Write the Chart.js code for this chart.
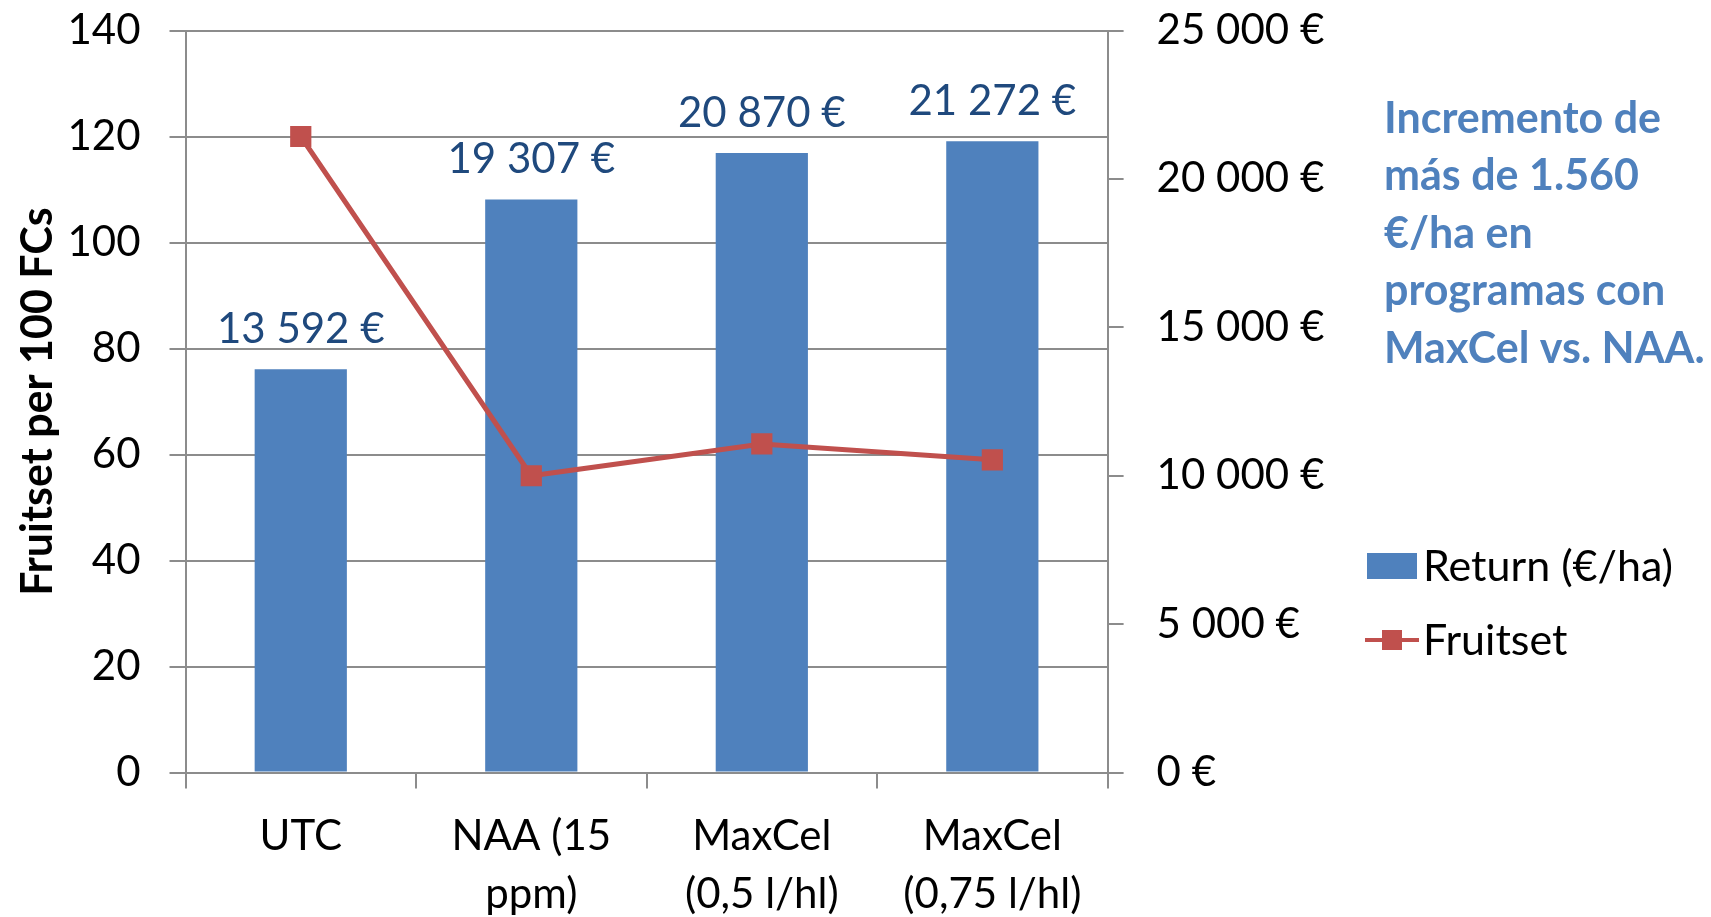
<!DOCTYPE html>
<html>
<head>
<meta charset="utf-8">
<title>Return vs Fruitset</title>
<script src="https://cdn.jsdelivr.net/npm/chart.js@4.4.1/dist/chart.umd.min.js"></script>
<style>
    html, body { margin: 0; padding: 0; background: #fff; }
    #wrap { width: 1711px; height: 917px; }
</style>
</head>
<body>
<div id="wrap"><canvas id="chart" width="1711" height="917"></canvas></div>
<script>
// data
const categories = [['UTC'], ['NAA (15', 'ppm)'], ['MaxCel', '(0,5 l/hl)'], ['MaxCel', '(0,75 l/hl)']];
const returnPerHa = [13592, 19307, 20870, 21272];
const fruitset = [120, 56, 62, 59];
const leftTicks = [0, 20, 40, 60, 80, 100, 120, 140];
const rightTicks = [0, 5000, 10000, 15000, 20000, 25000];
const noteLines = ['Incremento de', 'más de 1.560', '€/ha en', 'programas con', 'MaxCel vs. NAA.'];

const FONT = 'Lato, "Liberation Sans", sans-serif';
const GRID = '#8c8c8c';
const BLUE = '#4F81BD';
const RED = '#C0504D';

Chart.defaults.font.family = FONT;
Chart.defaults.color = '#000';

// "13592" -> "13 592 €"
function euro(v) {
    return String(v).replace(/\B(?=(\d{3})+(?!\d))/g, ' ') + ' €';
}

// value labels above bars, the note and the legend on the right
const extras = {
    id: 'extras',
    afterDatasetsDraw(chart) {
        const ctx = chart.ctx;
        ctx.save();
        ctx.font = '42px ' + FONT;
        ctx.fillStyle = '#1F497D';
        ctx.textAlign = 'center';
        ctx.textBaseline = 'middle';
        chart.getDatasetMeta(0).data.forEach((bar, i) => {
            ctx.fillText(euro(returnPerHa[i]), bar.x, bar.y - 40);
        });
        ctx.restore();
    },
    afterDraw(chart) {
        const ctx = chart.ctx;
        ctx.save();

        // note
        ctx.font = 'bold 43px ' + FONT;
        ctx.fillStyle = BLUE;
        ctx.textAlign = 'left';
        ctx.textBaseline = 'middle';
        noteLines.forEach((line, i) => ctx.fillText(line, 1384, 119 + i * 57.5));

        // legend
        const ds = chart.data.datasets;
        ctx.fillStyle = ds[0].backgroundColor;
        ctx.fillRect(1367, 553, 50, 26);
        ctx.strokeStyle = ds[1].borderColor;
        ctx.lineWidth = 4;
        ctx.beginPath();
        ctx.moveTo(1365, 640);
        ctx.lineTo(1419, 640);
        ctx.stroke();
        ctx.fillStyle = ds[1].borderColor;
        ctx.fillRect(1382, 630, 20, 20);

        ctx.font = '43px ' + FONT;
        ctx.fillStyle = '#000';
        ctx.fillText(ds[0].label, 1423, 567);
        ctx.fillText(ds[1].label, 1423, 641);
        ctx.restore();
    }
};

// keep the plot box fixed: no extra room for the end tick labels
function noLabelPad(s, width) {
    s.width = width;
    s.paddingTop = 0;
    s.paddingBottom = 0;
}

new Chart(document.getElementById('chart').getContext('2d'), {
    type: 'bar',
    data: {
        labels: categories,
        datasets: [
            {
                type: 'bar',
                label: 'Return (€/ha)',
                data: returnPerHa,
                yAxisID: 'y1',
                backgroundColor: BLUE,
                categoryPercentage: 0.4,
                barPercentage: 1,
                order: 2,
            },
            {
                type: 'line',
                label: 'Fruitset',
                data: fruitset,
                yAxisID: 'y',
                borderColor: RED,
                borderWidth: 5,
                pointStyle: 'rect',
                pointRadius: 15,
                pointBackgroundColor: RED,
                pointBorderWidth: 0,
                tension: 0,
                order: 1,
            },
        ],
    },
    options: {
        responsive: false,
        animation: false,
        events: [],
        layout: { padding: { left: 0, top: 30.5, right: 373.4, bottom: 0 } },
        plugins: {
            legend: { display: false },
            tooltip: { enabled: false },
        },
        scales: {
            x: {
                grid: { drawOnChartArea: false, offset: true, tickLength: 16, color: GRID, lineWidth: 2 },
                border: { color: GRID, width: 2 },
                ticks: { font: { size: 42, lineHeight: 1.38 }, padding: 19, maxRotation: 0, autoSkip: false },
                afterFit: s => { s.height = 144.4; s.paddingLeft = 0; s.paddingRight = 0; },
            },
            y: {
                position: 'left',
                min: leftTicks[0],
                max: leftTicks[leftTicks.length - 1],
                ticks: { stepSize: leftTicks[1] - leftTicks[0], font: { size: 42 }, padding: 29 },
                grid: { color: GRID, lineWidth: 2, tickLength: 16 },
                border: { color: GRID, width: 2 },
                title: {
                    display: true,
                    text: 'Fruitset per 100 FCs',
                    font: { size: 43, weight: 'bold' },
                    padding: { top: 12, bottom: 0 },
                },
                afterFit: s => noLabelPad(s, 185.5),
            },
            y1: {
                position: 'right',
                min: rightTicks[0],
                max: rightTicks[rightTicks.length - 1],
                ticks: { stepSize: rightTicks[1] - rightTicks[0], font: { size: 42 }, padding: 33, callback: v => euro(v) },
                grid: { drawOnChartArea: false, color: GRID, lineWidth: 2, tickLength: 16 },
                border: { color: GRID, width: 2 },
                afterFit: s => noLabelPad(s, 230),
            },
        },
    },
    plugins: [extras],
});
</script>
</body>
</html>
